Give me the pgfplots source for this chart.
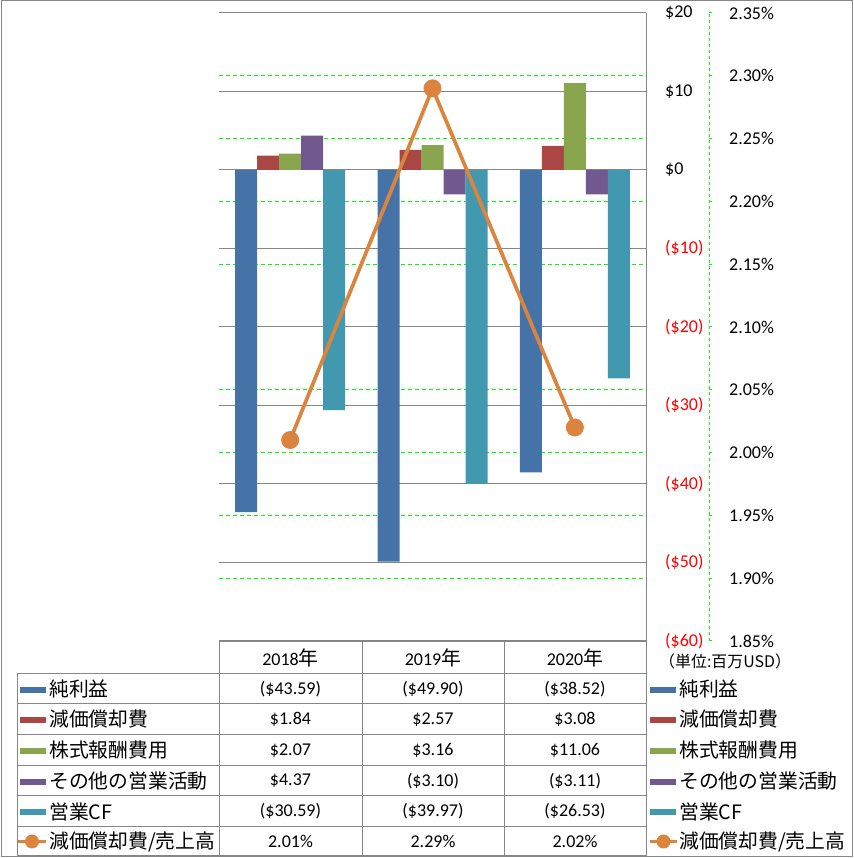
\documentclass[border=0pt]{standalone}
\usepackage{fontspec}
\setmainfont{Carlito}
\newfontfamily\jp[Scale=1.1]{Noto Sans CJK JP}
\usepackage{pgfplots}
\pgfplotsset{compat=1.18}
\definecolor{cBlue}{HTML}{4572A7}
\definecolor{cRed}{HTML}{AA4643}
\definecolor{cGreen}{HTML}{89A54E}
\definecolor{cPurple}{HTML}{71588F}
\definecolor{cTeal}{HTML}{4198AF}
\definecolor{cOrange}{HTML}{DB843D}
\definecolor{gridgray}{HTML}{868686}
\definecolor{lgreen}{HTML}{00FF00}
\definecolor{negred}{HTML}{FF0000}
\newcommand\fs{\fontsize{18}{20}\selectfont}
\pgfplotsset{
  base/.style={at={(219pt,217pt)}, anchor=south west, scale only axis,
    width=427pt, height=628pt, xmin=-0.5, xmax=2.5, xtick=\empty},
}
\begin{document}
\begin{tikzpicture}
\path[use as bounding box] (0,0) rectangle (853pt,858pt);
\draw[gridgray, line width=1pt] (1pt,1pt) rectangle (852pt,857pt);

% percent grid and labels
\begin{axis}[base, ymin=1.85, ymax=2.35,
  ytick={1.9,1.95,2,2.05,2.1,2.15,2.2,2.25,2.3},
  extra y ticks={1.85,2.35}, extra y tick style={grid=none},
  extra y tick labels={1.85\%,2.35\%},
  yticklabels={1.90\%,1.95\%,2.00\%,2.05\%,2.10\%,2.15\%,2.20\%,2.25\%,2.30\%},
  yticklabel pos=right, major tick length=0pt, axis line style={draw=none},
  ymajorgrids, grid style={lgreen, line width=1pt, dash pattern=on 4pt off 3pt},
  yticklabel style={anchor=west, inner sep=0pt, xshift=83pt, font=\fs},
]
\end{axis}

% bars
\begin{axis}[base, ymin=-60, ymax=20,
  ytick={-60,-50,-40,-30,-20,-10,0,10,20},
  yticklabels={\textcolor{negred}{(\$60)},\textcolor{negred}{(\$50)},\textcolor{negred}{(\$40)},\textcolor{negred}{(\$30)},\textcolor{negred}{(\$20)},\textcolor{negred}{(\$10)},\$0,\$10,\$20},
  yticklabel pos=right, major tick length=0pt, axis line style={draw=none},
  ymajorgrids, grid style={gridgray, line width=1pt},
  yticklabel style={anchor=west, inner sep=0pt, xshift=19pt, font=\fs},
  ybar=0pt, bar width=22pt,
]
\addplot[fill=cBlue, draw=none] coordinates {(0,-43.59) (1,-49.90) (2,-38.52)};
\addplot[fill=cRed, draw=none] coordinates {(0,1.84) (1,2.57) (2,3.08)};
\addplot[fill=cGreen, draw=none] coordinates {(0,2.07) (1,3.16) (2,11.06)};
\addplot[fill=cPurple, draw=none] coordinates {(0,4.37) (1,-3.10) (2,-3.11)};
\addplot[fill=cTeal, draw=none] coordinates {(0,-30.59) (1,-39.97) (2,-26.53)};
\end{axis}

% line
\begin{axis}[base, ymin=1.85, ymax=2.35, hide axis]
\addplot[cOrange, line width=3.7pt, mark=*, mark size=8.7pt,
  mark options={solid, fill=cOrange, draw=cOrange, line width=0.5pt}]
  coordinates {(0,2.01) (1,2.29) (2,2.02)};
\end{axis}

% percent axis line
\begin{axis}[at={(709pt,217pt)}, anchor=south west, scale only axis,
  width=5pt, height=628pt, xmin=0, xmax=1, ymin=1.85, ymax=2.35,
  ytick={1.85,1.9,1.95,2,2.05,2.1,2.15,2.2,2.25,2.3,2.35}, yticklabels={},
  hide x axis, axis y line*=left,
  y axis line style={-, lgreen, line width=1pt, dash pattern=on 3pt off 3pt},
  major tick length=3pt, tick align=inside,
  ytick style={lgreen, solid, line width=1pt}]
\end{axis}

\begin{scope}[x=1pt, y=-1pt, yshift=858pt]
\draw[gridgray, line width=1pt] (219,642) -- (646,642);
\foreach \y in {674,704,735,766,796,827,856}
  \draw[gridgray, line width=1pt] (17,\y) -- (646,\y);
\draw[gridgray, line width=1pt] (17,674) -- (17,856);
\foreach \x in {219,362,504}
  \draw[gridgray, line width=1pt] (\x,642) -- (\x,856);
\draw[gridgray, line width=1pt] (646,13) -- (646,856);

\node[font=\fs] at (290.5,658) {2018{\jp 年}};
\node[font=\fs] at (433,658) {2019{\jp 年}};
\node[font=\fs] at (575,658) {2020{\jp 年}};

\node[font={\jp\fontsize{14.5}{16}\selectfont}, anchor=west, inner sep=0pt] at (659,661) {（単位:百万USD）};

% rows
\foreach \c/\col/\lab in {689/cBlue/純利益, 719.5/cRed/減価償却費, 750.5/cGreen/株式報酬費用, 781/cPurple/その他の営業活動, 811.5/cTeal/営業CF}{
  \fill[\col] (20,\c-2) rectangle (46,\c+4);
  \node[anchor=west, inner sep=0pt, font={\jp\fs}] at (49,\c) {\lab};
  \fill[\col] (650,\c-2) rectangle (676,\c+4);
  \node[anchor=west, inner sep=0pt, font={\jp\fs}] at (679,\c) {\lab};
}

\draw[cOrange, line width=3.5pt] (18,841.5) -- (46,841.5);
\fill[cOrange] (32,841.5) circle (7);
\node[anchor=west, inner sep=0pt, font={\jp\fs}] at (49,841.5) {減価償却費/売上高};
\draw[cOrange, line width=3.5pt] (650,841.5) -- (677,841.5);
\fill[cOrange] (663.5,841.5) circle (7);
\node[anchor=west, inner sep=0pt, font={\jp\fs}] at (679,841.5) {減価償却費/売上高};

% values
\foreach \c/\a/\b/\d in {689/(\$43.59)/(\$49.90)/(\$38.52),
  719.5/\$1.84/\$2.57/\$3.08,
  750.5/\$2.07/\$3.16/\$11.06,
  781/\$4.37/(\$3.10)/(\$3.11),
  811.5/(\$30.59)/(\$39.97)/(\$26.53),
  841.5/2.01\%/2.29\%/2.02\%}{
  \node[font=\fs] at (290.5,\c) {\a};
  \node[font=\fs] at (433,\c) {\b};
  \node[font=\fs] at (575,\c) {\d};
}
\end{scope}
\end{tikzpicture}
\end{document}
